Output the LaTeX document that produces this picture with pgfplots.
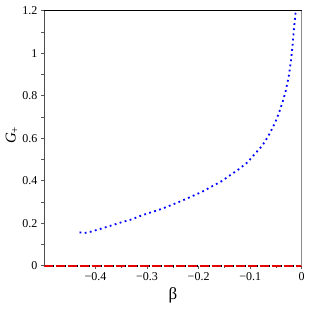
\documentclass[border=0pt]{standalone}
\usepackage{fontspec}
\setmainfont{Liberation Serif}
\usepackage{pgfplots}
\pgfplotsset{compat=1.18}
\begin{document}
\begin{tikzpicture}
\begin{axis}[
  scale only axis,
  width=257.7pt, height=255pt,
  xmin=-0.5, xmax=0, ymin=0, ymax=1.2,
  clip=false,
  axis line style={draw=none},
  xtick={-0.4,-0.3,-0.2,-0.1,0},
  xticklabels={−0.4,−0.3,−0.2,−0.1,0},
  ytick={0,0.2,0.4,0.6,0.8,1,1.2},
  yticklabels={0,0.2,0.4,0.6,0.8,1,1.2},
  minor x tick num=1, minor y tick num=1,
  xtick pos=bottom, ytick pos=left,
  tick align=outside,
  major tick length=3pt, minor tick length=2.5pt,
  tick style={draw=black!65, line width=0.5pt},
  /pgf/number format/assume math mode=true,
  ticklabel style={font=\rmfamily\fontsize{12}{14}\selectfont},
  xlabel={β},
  xlabel style={font=\rmfamily\fontsize{17}{19}\selectfont, at={(axis description cs:0.5,-0.1345)}, anchor=base},
  ylabel={\textit{G}\raisebox{-0.4ex}{\fontsize{11}{12}\selectfont +}},
  ylabel style={font=\rmfamily\fontsize{15}{17}\selectfont, at={(axis description cs:-0.11,0.511)}, anchor=base},
]
\addplot[black, line width=2pt, dash pattern=on 2pt off 2pt] coordinates {(-0.5,0) (0,0)};
\addplot[red!90!black, line width=2.2pt, dash pattern=on 9pt off 3pt] coordinates {(-0.5,0) (0,0)};
\addplot[blue, line width=1.8pt, line cap=butt, dash pattern=on 1.8pt off 3.4pt] coordinates {
(-0.431,0.157) (-0.421,0.154) (-0.411,0.159) (-0.391,0.173) (-0.371,0.188)
(-0.350,0.204) (-0.330,0.218) (-0.310,0.237) (-0.271,0.268) (-0.232,0.306)
(-0.194,0.347) (-0.156,0.397) (-0.122,0.454) (-0.105,0.487) (-0.0777,0.562)
(-0.0718,0.582) (-0.0616,0.624) (-0.0518,0.672) (-0.0441,0.719) (-0.0375,0.767)
(-0.0317,0.816) (-0.0252,0.889) (-0.0208,0.965) (-0.0175,1.042) (-0.0150,1.117)
(-0.0117,1.195)
};
\draw[black!70, line width=0.6pt] (rel axis cs:0,0) -- (rel axis cs:0,1);
\draw[black, line width=0.6pt] (rel axis cs:0,1) -- (rel axis cs:1,1);
\draw[black!45, line width=1.5pt] (rel axis cs:1,1) -- (rel axis cs:1,0);
\end{axis}
\pgfresetboundingbox
\path[use as bounding box] ([shift={(-44pt,-43.3pt)}]current axis.south west) rectangle ([shift={(7.3pt,10.7pt)}]current axis.north east);
\end{tikzpicture}
\end{document}
